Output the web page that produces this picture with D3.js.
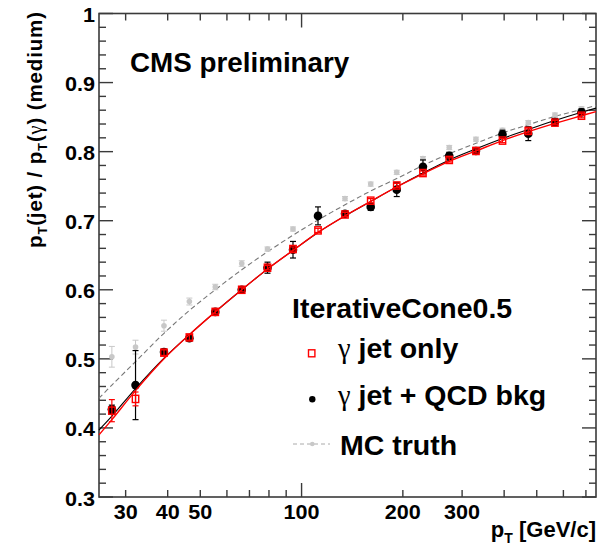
<!DOCTYPE html>
<html><head><meta charset="utf-8">
<script src="https://cdn.jsdelivr.net/npm/d3@7"></script>
<style>html,body{margin:0;padding:0;background:#fff;}svg{display:block;}</style>
</head><body>
<svg id="c" width="606" height="549"></svg>
<script>
// ---------- data ----------
const ptBins = [27.3, 32.1, 39.0, 46.4, 55.4, 66.4, 79.2, 94.3, 111.9, 134.6, 160.5, 191.8, 229.5, 274.7, 329.8, 395.5, 471.8, 566.3, 679];
const gammaJet      = [0.425, 0.442, 0.509, 0.531, 0.568, 0.600, 0.632, 0.659, 0.686, 0.709, 0.729, 0.751, 0.769, 0.788, 0.801, 0.816, 0.830, 0.842, 0.852];
const gammaJetErr   = [0.016, 0.010, 0.004, 0.004, 0.003, 0.003, 0.003, 0.003, 0.003, 0.003, 0.003, 0.003, 0.003, 0.003, 0.003, 0.003, 0.003, 0.003, 0.003];
const gammaJetQCD   = [0.427, 0.462, 0.510, 0.530, 0.568, 0.600, 0.632, 0.658, 0.707, 0.710, 0.720, 0.745, 0.778, 0.794, 0.801, 0.825, 0.826, 0.843, 0.857];
const gammaJetQCDErr= [0.006, 0.050, 0.004, 0.004, 0.004, 0.004, 0.008, 0.012, 0.013, 0.004, 0.005, 0.010, 0.010, 0.005, 0.005, 0.006, 0.010, 0.005, 0.005];
const mcTruth       = [0.503, 0.517, 0.548, 0.583, 0.604, 0.638, 0.659, 0.688, 0.708, 0.732, 0.753, 0.770, 0.790, 0.806, 0.818, 0.831, 0.842, 0.853, 0.862];
const mcTruthErr    = [0.015, 0.010, 0.008, 0.005, 0.004, 0.004, 0.003, 0.003, 0.003, 0.003, 0.003, 0.003, 0.003, 0.003, 0.003, 0.003, 0.003, 0.003, 0.003];

// fitted curves, read at these pT values
const fitPt      = [25, 27.3, 32.1, 39.0, 46.4, 55.4, 66.4, 79.2, 94.3, 111.9, 134.6, 160.5, 191.8, 229.5, 274.7, 329.8, 395.5, 471.8, 566.3, 679, 750];
const fitGammaJet= [0.390, 0.412, 0.454, 0.500, 0.535, 0.568, 0.600, 0.630, 0.657, 0.683, 0.707, 0.728, 0.749, 0.768, 0.786, 0.801, 0.816, 0.829, 0.841, 0.852, 0.858];
const fitQCD     = [0.397, 0.417, 0.457, 0.501, 0.535, 0.568, 0.600, 0.630, 0.657, 0.683, 0.707, 0.728, 0.749, 0.769, 0.788, 0.804, 0.819, 0.832, 0.845, 0.857, 0.863];
const fitMC      = [0.443, 0.462, 0.496, 0.537, 0.570, 0.600, 0.629, 0.655, 0.679, 0.701, 0.723, 0.743, 0.761, 0.780, 0.797, 0.812, 0.827, 0.839, 0.851, 0.861, 0.867];

const xTickLabels = [30, 40, 50, 100, 200, 300];
const xMinorTicks = [30, 40, 50, 60, 70, 80, 90, 200, 300, 400, 500, 600, 700];
const xMajorTicks = [100];
const yTickLabels = [0.3, 0.4, 0.5, 0.6, 0.7, 0.8, 0.9, 1.0];

// ---------- layout ----------
const L = 99, R = 596, T = 13.5, B = 497;
const svg = d3.select("#c");
const x = d3.scaleLog().domain([25, 750]).range([L, R]);
const y = d3.scaleLinear().domain([0.3, 1.0]).range([B, T]);
const font = "'Liberation Sans', Arial, Helvetica, sans-serif";
const axisCol = "#3a3a3a";

// frame
svg.append("rect").attr("x", L).attr("y", T).attr("width", R - L).attr("height", B - T)
  .attr("fill", "none").attr("stroke", axisCol).attr("stroke-width", 1.6);

// ticks
const tg = svg.append("g").attr("stroke", axisCol).attr("stroke-width", 1.4);
function xt(v, len) {
  tg.append("line").attr("x1", x(v)).attr("x2", x(v)).attr("y1", B).attr("y2", B - len);
  tg.append("line").attr("x1", x(v)).attr("x2", x(v)).attr("y1", T).attr("y2", T + len);
}
xMinorTicks.forEach(v => xt(v, 7));
xMajorTicks.forEach(v => xt(v, 14));
const yMinor = d3.range(0, 36).map(i => +(0.3 + i * 0.02).toFixed(2));
yMinor.forEach(v => {
  const major = Math.abs(v * 10 - Math.round(v * 10)) < 1e-6;
  const len = major ? 14 : 7;
  tg.append("line").attr("x1", L).attr("x2", L + len).attr("y1", y(v)).attr("y2", y(v));
  tg.append("line").attr("x1", R).attr("x2", R - len).attr("y1", y(v)).attr("y2", y(v));
});

// tick labels
function label(xp, yp, str, size, anchor, sx) {
  svg.append("text").attr("transform", `translate(${xp},${yp}) scale(${sx || 1},1)`)
    .attr("text-anchor", anchor || "start").attr("font-family", font).attr("font-weight", "bold")
    .attr("font-size", size).attr("fill", "#000").text(str);
}
xTickLabels.forEach(v => label(x(v), 519, String(v), 20, "middle", 1.08));
yTickLabels.forEach(v => label(95, y(v) + 8.5, v === 1 ? "1" : v.toFixed(1), 20, "end", 1.08));

// axis titles
const xtitle = svg.append("text").attr("x", R).attr("y", 537).attr("text-anchor", "end")
  .attr("font-family", font).attr("font-weight", "bold").attr("font-size", 22);
xtitle.append("tspan").text("p");
xtitle.append("tspan").attr("font-size", 14).attr("dy", 6).text("T");
xtitle.append("tspan").attr("dy", -6).text(" [GeV/c]");

const ytitle = svg.append("text").attr("transform", "translate(42,12) rotate(-90)")
  .attr("text-anchor", "end").attr("font-family", font).attr("font-weight", "bold").attr("font-size", 20.5)
  .attr("textLength", 236).attr("lengthAdjust", "spacing");
ytitle.append("tspan").text("p");
ytitle.append("tspan").attr("font-size", 13).attr("dy", 5).text("T");
ytitle.append("tspan").attr("dy", -5).text("(jet) / p");
ytitle.append("tspan").attr("font-size", 13).attr("dy", 5).text("T");
ytitle.append("tspan").attr("dy", -5).text("(");
ytitle.append("tspan").attr("font-family", "'Liberation Serif', 'DejaVu Serif', serif").attr("font-weight", "normal").text("γ");
ytitle.append("tspan").text(") (medium)");

label(130, 72, "CMS preliminary", 27, "start", 1.03);

// ---------- curves ----------
const line = d3.line().x((d, i) => x(fitPt[i])).y(d => y(d)).curve(d3.curveCatmullRom.alpha(0.5));
const plot = svg.append("g");
plot.append("path").attr("d", line(fitMC)).attr("fill", "none").attr("stroke", "#777")
  .attr("stroke-width", 1.1).attr("stroke-dasharray", "5,3");

function errBars(vals, errs, col, w) {
  const g = plot.append("g").attr("stroke", col).attr("stroke-width", w);
  vals.forEach((v, i) => {
    const px = x(ptBins[i]);
    g.append("line").attr("x1", px).attr("x2", px).attr("y1", y(v - errs[i])).attr("y2", y(v + errs[i]));
    g.append("line").attr("x1", px - 3).attr("x2", px + 3).attr("y1", y(v - errs[i])).attr("y2", y(v - errs[i]));
    g.append("line").attr("x1", px - 3).attr("x2", px + 3).attr("y1", y(v + errs[i])).attr("y2", y(v + errs[i]));
  });
}
errBars(mcTruth, mcTruthErr, "#c8c8c8", 1);
plot.append("g").selectAll("circle").data(mcTruth).join("circle")
  .attr("cx", (d, i) => x(ptBins[i])).attr("cy", d => y(d)).attr("r", 2.8).attr("fill", "#c8c8c8");

plot.append("path").attr("d", line(fitQCD)).attr("fill", "none").attr("stroke", "#000").attr("stroke-width", 1.1);
errBars(gammaJetQCD, gammaJetQCDErr, "#000", 1.2);
plot.append("g").selectAll("circle").data(gammaJetQCD).join("circle")
  .attr("cx", (d, i) => x(ptBins[i])).attr("cy", d => y(d)).attr("r", 4.3).attr("fill", "#000");

plot.append("path").attr("d", line(fitGammaJet)).attr("fill", "none").attr("stroke", "#f00").attr("stroke-width", 1.4);
errBars(gammaJet, gammaJetErr, "#f00", 1.2);
plot.append("g").selectAll("rect").data(gammaJet).join("rect")
  .attr("x", (d, i) => x(ptBins[i]) - 3.2).attr("y", d => y(d) - 3.6).attr("width", 6.4).attr("height", 7.2)
  .attr("fill", "none").attr("stroke", "#f00").attr("stroke-width", 1.4);

// ---------- legend ----------
label(292, 318, "IterativeCone0.5", 28.5, "start", 1);
svg.append("rect").attr("x", 308.5).attr("y", 349.8).attr("width", 6.4).attr("height", 7).attr("fill", "none")
  .attr("stroke", "#f00").attr("stroke-width", 1.4);
svg.append("circle").attr("cx", 312.3).attr("cy", 399.3).attr("r", 3.2).attr("fill", "#000");
svg.append("line").attr("x1", 293).attr("x2", 330).attr("y1", 444).attr("y2", 444)
  .attr("stroke", "#aaa").attr("stroke-width", 1).attr("stroke-dasharray", "4,3");
svg.append("circle").attr("cx", 312.3).attr("cy", 444).attr("r", 2.3).attr("fill", "#c8c8c8");
function legText(xp, yp, rest) {
  const t = svg.append("text").attr("x", xp).attr("y", yp).attr("font-family", font)
    .attr("font-weight", "bold").attr("font-size", 28.5);
  t.append("tspan").attr("font-family", "'Liberation Serif', 'DejaVu Serif', serif").attr("font-weight", "normal").text("γ");
  t.append("tspan").text(" " + rest);
}
legText(338, 358, "jet only");
legText(338, 405, "jet + QCD bkg");
label(340, 455, "MC truth", 28.5, "start", 1);
</script>
</body></html>
